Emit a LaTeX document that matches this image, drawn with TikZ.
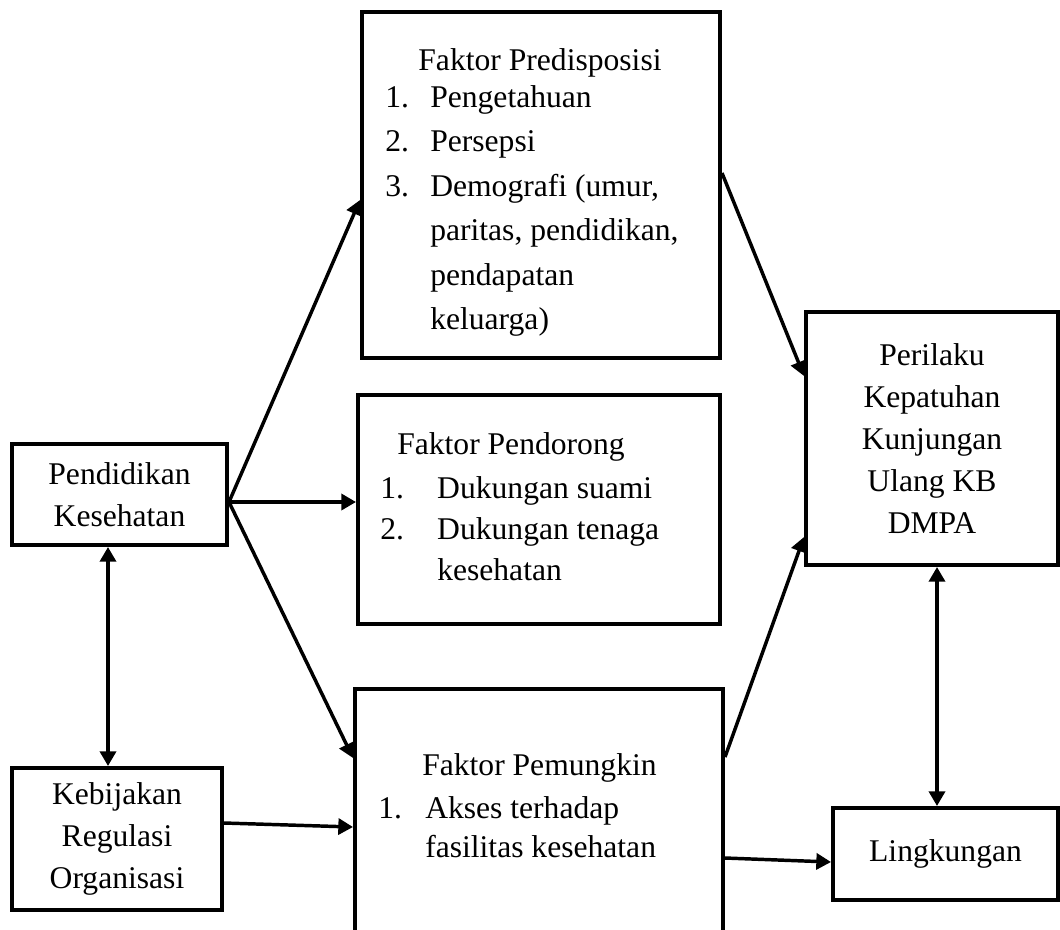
\documentclass[tikz,border=0pt]{standalone}
\usepackage{fontspec}
\setmainfont{Liberation Serif}
\usetikzlibrary{arrows.meta}
\tikzset{framebox/.style={draw=black,line width=3pt,rectangle,inner sep=0pt,align=center,font=\fontsize{23.7}{31.5}\selectfont},
 boxtext/.style={inner sep=0pt,align=left,font=\fontsize{23.7}{31.5}\selectfont},
 flowline/.style={line width=2.6pt,-{Triangle[length=11pt,width=12pt]}},
 bothline/.style={line width=2.6pt,{Triangle[length=11pt,width=12pt]}-{Triangle[length=11pt,width=12pt]}}}

\begin{document}
\begin{tikzpicture}[x=0.75pt,y=-0.75pt]
\useasboundingbox (0,0) rectangle (1060,929);
% boxes
\node[framebox,minimum width=268.5pt,minimum height=259.5pt] (pred) at (541,185) {};
\node[framebox,minimum width=271.5pt,minimum height=171.75pt] (pendr) at (539,509.5) {};
\node[framebox,minimum width=276pt,minimum height=211.5pt] (pemu) at (539,830) {};
\node[framebox,minimum width=161.25pt,minimum height=75.75pt] (pdk) at (119.5,494.5) {Pendidikan\\Kesehatan};
\node[framebox,minimum width=157.5pt,minimum height=106.5pt] (kbj) at (117,839) {Kebijakan\\Regulasi\\Organisasi};
\node[framebox,minimum width=189pt,minimum height=189.75pt] (prl) at (932,438.5) {Perilaku\\Kepatuhan\\Kunjungan\\Ulang KB\\DMPA};
\node[framebox,minimum width=168.75pt,minimum height=69pt] (lkg) at (945.5,854) {Lingkungan};
% texts in the factor boxes
\node[boxtext] (predtitle) at (540,63) {Faktor Predisposisi};
\node[boxtext,anchor=west,font=\fontsize{23.7}{33.4}\selectfont] (predlist) at (385,211) {\makebox[33.75pt][l]{1.}Pengetahuan\\\makebox[33.75pt][l]{2.}Persepsi\\\makebox[33.75pt][l]{3.}Demografi (umur,\\\hspace*{33.75pt}paritas, pendidikan,\\\hspace*{33.75pt}pendapatan\\\hspace*{33.75pt}keluarga)};
\node[boxtext,anchor=west] (pendrtitle) at (397,447) {Faktor Pendorong};
\node[boxtext,anchor=west,font=\fontsize{23.7}{30.75}\selectfont] (pendrlist) at (380,529) {\makebox[42.75pt][l]{1.}Dukungan suami\\\makebox[42.75pt][l]{2.}Dukungan tenaga\\\hspace*{42.75pt}kesehatan};
\node[boxtext,anchor=west] (pemutitle) at (422,768) {Faktor Pemungkin};
\node[boxtext,anchor=west,font=\fontsize{23.7}{29.25}\selectfont] (pemulist) at (378,827.5) {\makebox[35.25pt][l]{1.}Akses terhadap\\\hspace*{35.25pt}fasilitas kesehatan};
% arrows
\draw[flowline] (pdk.east |- 0,502) -- (pred.west |- 0,200);
\draw[flowline] (pdk.east |- 0,502) -- (pendr.west |- 0,502);
\draw[flowline] (pdk.east |- 0,502) -- (pemu.west |- 0,758);
\draw[bothline] (pdk.south -| 108,0) -- (kbj.north -| 108,0);
\draw[flowline] (kbj.east |- 0,823) -- (pemu.west |- 0,827);
\draw[flowline] (pred.east |- 0,173) -- (prl.west |- 0,376);
\draw[flowline] (pemu.east |- 0,757) -- (prl.west |- 0,537);
\draw[flowline] (pemu.east |- 0,858) -- (lkg.west |- 0,862);
\draw[bothline] (prl.south -| 937,0) -- (lkg.north -| 937,0);
\end{tikzpicture}
\end{document}
